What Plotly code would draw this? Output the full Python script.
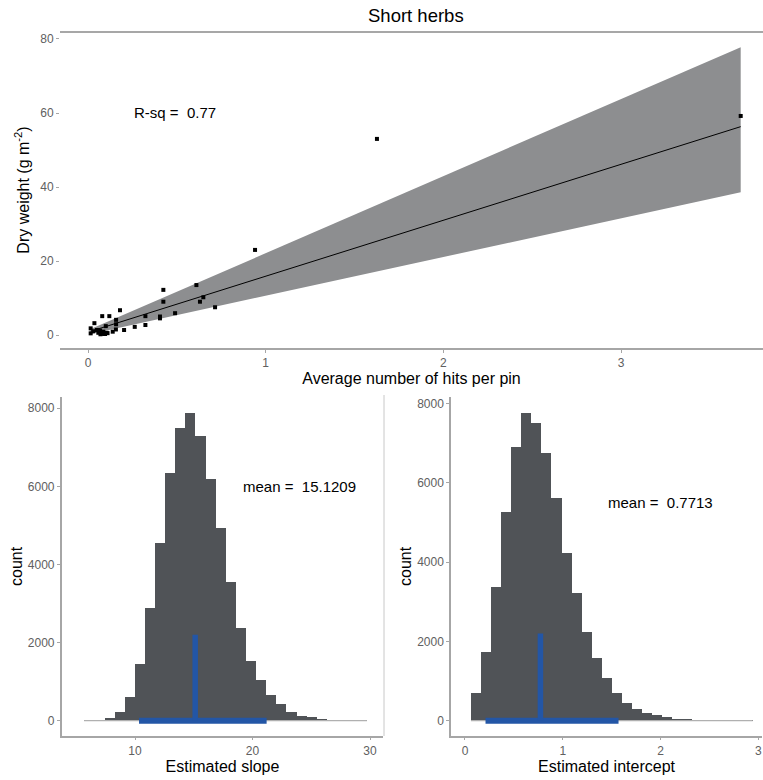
import plotly.graph_objects as go

# ---------------- data ----------------
hits = [0.015, 0.015, 0.036, 0.05, 0.058, 0.068, 0.077, 0.086, 0.096, 0.105, 0.1, 0.08,
        0.12, 0.18, 0.158, 0.158, 0.139, 0.157, 0.203, 0.263, 0.323, 0.323, 0.405, 0.405,
        0.424, 0.424, 0.49, 0.61, 0.63, 0.649, 0.715, 0.94, 1.626, 3.673,
        0.07, 0.09, 0.03, 0.11]
dry_weight = [0.45, 1.8, 3.2, 1.35, 0.6, 1.2, 0.45, 0.9, 0.27, 0.6, 2.4, 5.1,
              5.1, 6.7, 4.1, 2.9, 0.9, 1.5, 1.35, 2.2, 2.7, 5.1, 5.0, 4.5,
              9.0, 12.2, 5.9, 13.5, 9.0, 10.2, 7.5, 23.0, 53.0, 59.2,
              0.2, 0.3, 1.0, 0.5]

slope_mean = 15.1209
intercept_mean = 0.7713
r_sq = 0.77

ribbon_x = [0.015, 3.673]
ribbon_lo = [0.3, 38.6]
ribbon_hi = [1.6, 77.8]

slope_bin_start = 5.66
slope_binwidth = 0.86
slope_counts = [3, 15, 77, 230, 600, 1452, 2894, 4543, 6335, 7487, 7887, 7298, 6181, 4926,
                3552, 2382, 1529, 1042, 650, 420, 223, 120, 87, 40, 15, 8, 3, 1]
slope_ci = [10.34, 21.2]

int_bin_start = 0.061
int_binwidth = 0.1029
int_counts = [690, 1731, 3377, 5267, 6890, 7763, 7495, 6755, 5605, 4234, 3211, 2243, 1588,
              1069, 690, 438, 302, 202, 136, 86, 50, 42, 15, 8, 5, 3, 2, 1]
int_ci = [0.21, 1.57]
ci_marker_height = 2200

top_xticks = [0, 1, 2, 3]
top_yticks = [0, 20, 40, 60, 80]
hist_yticks = [0, 2000, 4000, 6000, 8000]
slope_xticks = [10, 20, 30]
int_xticks = [0, 1, 2, 3]

# ---------------- style ----------------
FONT = "Liberation Sans, Arial, sans-serif"
BAR = "#505357"
BASE = "#b0b0b0"
BLUE = "#2356A6"
AXIS = "#a6a6a6"
TICKC = "#606060"

fig = go.Figure()

# Top panel: ribbon
fig.add_trace(go.Scatter(x=ribbon_x, y=ribbon_lo, mode="lines", line=dict(width=0),
                         showlegend=False, hoverinfo="skip", xaxis="x", yaxis="y"))
fig.add_trace(go.Scatter(x=ribbon_x, y=ribbon_hi, mode="lines", line=dict(width=0),
                         fill="tonexty", fillcolor="#8d8e90",
                         showlegend=False, hoverinfo="skip", xaxis="x", yaxis="y"))
# Regression line
lx = [min(hits), max(hits)]
ly = [intercept_mean + slope_mean * v for v in lx]
fig.add_trace(go.Scatter(x=lx, y=ly, mode="lines", line=dict(color="black", width=1),
                         showlegend=False, xaxis="x", yaxis="y"))
# Points
fig.add_trace(go.Scatter(x=hits, y=dry_weight, mode="markers",
                         marker=dict(color="black", size=4, symbol="square"),
                         showlegend=False, xaxis="x", yaxis="y"))


def hist_traces(start, width, counts, ci, mean, xa, ya):
    centers = [start + (i + 0.5) * width for i in range(len(counts))]
    end = start + width * len(counts)
    fig.add_trace(go.Scatter(x=[start, end], y=[0, 0], mode="lines",
                             line=dict(color=BASE, width=1.2), showlegend=False,
                             xaxis=xa, yaxis=ya))
    fig.add_trace(go.Bar(x=centers, y=counts, width=width,
                         marker=dict(color=BAR, line=dict(width=0)),
                         showlegend=False, xaxis=xa, yaxis=ya))
    fig.add_trace(go.Scatter(x=ci, y=[0, 0], mode="lines",
                             line=dict(color=BLUE, width=6), showlegend=False,
                             xaxis=xa, yaxis=ya))
    fig.add_trace(go.Scatter(x=[mean, mean], y=[0, ci_marker_height], mode="lines",
                             line=dict(color=BLUE, width=5.5), showlegend=False,
                             xaxis=xa, yaxis=ya))


hist_traces(slope_bin_start, slope_binwidth, slope_counts, slope_ci, slope_mean, "x2", "y2")
hist_traces(int_bin_start, int_binwidth, int_counts, int_ci, intercept_mean, "x3", "y3")

W, H = 763, 780


def px(x):
    return x / W


def py(y):
    return 1 - y / H


tickfont = dict(family=FONT, size=12, color=TICKC)
titlefont = dict(family=FONT, size=16, color="black")

common_axis = dict(showgrid=False, zeroline=False, ticks="outside", ticklen=3,
                   tickcolor=AXIS, tickfont=tickfont)

fig.update_layout(
    width=W, height=H,
    margin=dict(l=0, r=0, t=0, b=0),
    plot_bgcolor="white", paper_bgcolor="white",
    bargap=0,
    font=dict(family=FONT),
    xaxis=dict(domain=[px(60), 1.0], range=[-0.1576, 3.7985], tickvals=top_xticks,
               showline=True, linecolor=AXIS, linewidth=1.5, anchor="y",
               title=dict(text="Average number of hits per pin", font=titlefont, standoff=2),
               **common_axis),
    yaxis=dict(domain=[py(348), py(32)], range=[-3.51, 81.89], tickvals=top_yticks,
               showline=False, anchor="x",
               title=dict(text="Dry weight (g m<sup>-2</sup>)", font=titlefont, standoff=6),
               **common_axis),
    xaxis2=dict(domain=[px(61.7), px(383.3)], range=[3.76, 31.13], tickvals=slope_xticks,
                showline=True, linecolor=AXIS, linewidth=1.5, anchor="y2",
                title=dict(text="Estimated slope", font=titlefont, standoff=2),
                **common_axis),
    yaxis2=dict(domain=[py(735.7), py(397)], range=[-384, 8289], tickvals=hist_yticks,
                showline=True, linecolor=AXIS, linewidth=1.5, anchor="x2",
                title=dict(text="count", font=titlefont, standoff=1),
                **common_axis),
    xaxis3=dict(domain=[px(451), px(762)], range=[-0.143, 3.037], tickvals=int_xticks,
                showline=True, linecolor=AXIS, linewidth=1.5, anchor="y3",
                title=dict(text="Estimated intercept", font=titlefont, standoff=2),
                **common_axis),
    yaxis3=dict(domain=[py(735.7), py(397)], range=[-378, 8159], tickvals=hist_yticks,
                showline=True, linecolor=AXIS, linewidth=1.5, anchor="x3",
                title=dict(text="count", font=titlefont, standoff=2),
                **common_axis),
    shapes=[
        dict(type="line", xref="paper", yref="paper", x0=px(60), x1=1.0, y0=py(32), y1=py(32),
             line=dict(color="#8a8a8a", width=1.5)),
        dict(type="line", xref="paper", yref="paper", x0=px(384), x1=px(384), y0=py(395), y1=py(736),
             line=dict(color="#c8c8c8", width=1)),
    ],
    annotations=[
        dict(text="Short herbs", xref="paper", yref="paper", x=px(416), y=py(15),
             xanchor="center", yanchor="middle",
             showarrow=False, font=dict(family=FONT, size=18.5, color="black")),
        dict(text=f"R-sq =  {r_sq}", xref="x", yref="y", x=0.49, y=60,
             showarrow=False, font=dict(family=FONT, size=15, color="black")),
        dict(text=f"mean =  {slope_mean}", xref="x2", yref="y2", x=24.0, y=6000,
             showarrow=False, font=dict(family=FONT, size=15, color="black")),
        dict(text=f"mean =  {intercept_mean}", xref="x3", yref="y3", x=2.0, y=5500,
             showarrow=False, font=dict(family=FONT, size=15, color="black")),
    ],
)

fig.write_html("out.html", config={"displayModeBar": False},
               post_script="document.body.style.margin='0';")
